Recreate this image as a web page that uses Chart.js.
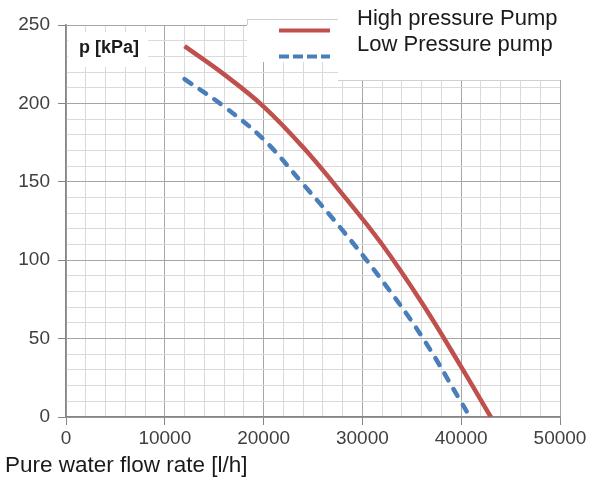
<!DOCTYPE html>
<html><head><meta charset="utf-8">
<script src="https://cdn.jsdelivr.net/npm/chart.js@4/dist/chart.umd.min.js"></script>
<style>html,body{margin:0;padding:0;background:#fff}#wrap{width:590px;height:478px;position:relative}</style>
</head><body><div id="wrap"><canvas id="c" width="590" height="478"></canvas></div>
<script>
const highFlow = [12000,16000,20000,24000,28000,32000,36000,40000,43000];
const highPressure = [236.5,218.5,198,172,142,110,73,32,0];
const lowFlow = [12000,16000,20000,24000,28000,32000,36000,40000,40900];
const lowPressure = [215.5,198,177,148.5,119,87,51.5,9.5,0];
const xTickLabels = [0,10000,20000,30000,40000,50000];
const yTickLabels = [0,50,100,150,200,250];
const seriesNames = ['High pressure Pump','Low Pressure pump'];
const xTitle = 'Pure water flow rate [l/h]';
const yTitle = 'p [kPa]';

const RED = '#c0504d', BLUE = '#4a7ebb';
const MAJOR = '#a6a6a6', MINOR = '#dadada', AXIS = '#868686';
const FONT = "'Liberation Sans', Arial, sans-serif";

const overlay = {
  id: 'overlay',
  afterDraw(chart) {
    const c = chart.ctx;
    c.save();
    c.fillStyle = '#fff';
    c.fillRect(247, 19, 92, 43);
    c.fillRect(338, 0, 252, 80);
    c.strokeStyle = '#d0d0d0'; c.lineWidth = 1;
    c.beginPath(); c.moveTo(247, 19.5); c.lineTo(338, 19.5); c.stroke();
    c.beginPath(); c.moveTo(247.5, 19.5); c.lineTo(247.5, 25); c.stroke();
    c.beginPath(); c.moveTo(338, 80.5); c.lineTo(560, 80.5); c.stroke();
    c.lineWidth = 4; c.strokeStyle = RED; c.lineCap = 'butt';
    c.beginPath(); c.moveTo(279, 30.5); c.lineTo(330, 30.5); c.stroke();
    c.strokeStyle = BLUE; c.setLineDash([10, 4]);
    c.beginPath(); c.moveTo(279, 56.5); c.lineTo(330, 56.5); c.stroke();
    c.setLineDash([]);
    c.fillStyle = '#1a1a1a';
    c.font = '22px ' + FONT; c.textBaseline = 'middle'; c.textAlign = 'left';
    c.fillText(seriesNames[0], 357, 19);
    c.fillText(seriesNames[1], 357, 45);
    c.fillStyle = '#fff';
    c.fillRect(68, 32, 80, 35);
    c.fillStyle = '#1a1a1a';
    c.font = 'bold 18px ' + FONT; c.textAlign = 'center';
    c.fillText(yTitle, 109, 48);
    c.font = '22.5px ' + FONT; c.textAlign = 'left';
    c.fillText(xTitle, 5, 466);
    c.restore();
  }
};

const toPts = (xs, ys) => xs.map((x, i) => ({x, y: ys[i]}));

new Chart(document.getElementById('c'), {
  type: 'scatter',
  data: {
    datasets: [
      { label: seriesNames[0], data: toPts(highFlow, highPressure), showLine: true,
        borderColor: RED, borderWidth: 4.5, pointRadius: 0, tension: 0.4 },
      { label: seriesNames[1], data: toPts(lowFlow, lowPressure), showLine: true,
        borderColor: BLUE, borderWidth: 4.5, borderDash: [8, 10], borderCapStyle: 'round',
        pointRadius: 0, tension: 0.4 }
    ]
  },
  options: {
    responsive: false, animation: false,
    layout: { padding: { top: 25, right: 30, left: 0, bottom: 0 } },
    plugins: { legend: { display: false }, tooltip: { enabled: false } },
    scales: {
      x: {
        type: 'linear', min: 0, max: 50000,
        afterFit: s => { s.height = 61; },
        ticks: { stepSize: 2000, autoSkip: false, maxRotation: 0, padding: 2,
          color: '#404040', font: { family: FONT, size: 19 },
          callback: v => xTickLabels.includes(v) ? String(v) : '' },
        grid: { color: ctx => (ctx.tick && ctx.tick.value % 10000 === 0) ? MAJOR : MINOR,
          tickColor: ctx => (ctx.tick && xTickLabels.includes(ctx.tick.value)) ? AXIS : 'rgba(0,0,0,0)',
          tickLength: 8, lineWidth: 1 },
        border: { color: AXIS, width: 1.5 }
      },
      y: {
        type: 'linear', min: 0, max: 250,
        afterFit: s => { s.width = 66; },
        ticks: { stepSize: 10, autoSkip: false, padding: 8,
          color: '#404040', font: { family: FONT, size: 19 },
          callback: v => yTickLabels.includes(v) ? String(v) : '' },
        grid: { color: ctx => (ctx.tick && ctx.tick.value % 50 === 0) ? MAJOR : MINOR,
          tickColor: ctx => (ctx.tick && yTickLabels.includes(ctx.tick.value)) ? AXIS : 'rgba(0,0,0,0)',
          tickLength: 8, lineWidth: 1 },
        border: { color: AXIS, width: 1.5 }
      }
    }
  },
  plugins: [overlay]
});
</script></body></html>
